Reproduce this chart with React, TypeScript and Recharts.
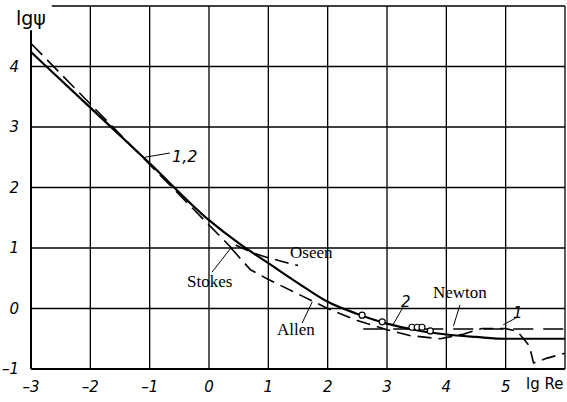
import {
  ComposedChart,
  Line,
  Scatter,
  XAxis,
  YAxis,
  CartesianGrid,
  ReferenceLine,
} from "recharts";

// lg Re positions and lg psi values
const curve12X = [-3, -2, -1, 0, 0.5, 1, 1.5, 2, 2.5, 3, 3.5, 4, 4.5, 5, 6];
const curve12Y = [4.24, 3.32, 2.4, 1.46, 1.08, 0.75, 0.42, 0.11, -0.09, -0.25, -0.36, -0.43, -0.47, -0.5, -0.5];

const stokesX = [-3, 0.4];
const stokesY = [4.38, 0.98];

const oseenX = [0.45, 0.8, 1.0, 1.5];
const oseenY = [1.05, 0.9, 0.84, 0.71];

const allenX = [0.37, 0.7, 1, 1.5, 2, 2.5, 3, 3.4, 3.9, 4.3, 4.6, 5.0, 5.2, 5.4, 5.47, 5.7, 6.0];
const allenY = [1.0, 0.64, 0.48, 0.24, 0.0, -0.2, -0.35, -0.45, -0.5, -0.42, -0.33, -0.33, -0.38, -0.62, -0.9, -0.82, -0.74];

const newtonX = [2.6, 6];
const newtonY = [-0.34, -0.34];

const expX = [2.58, 2.92, 3.42, 3.51, 3.59, 3.73];
const expY = [-0.11, -0.22, -0.31, -0.31, -0.31, -0.37];

const xTicks = [-3, -2, -1, 0, 1, 2, 3, 4, 5, 6];
const yTicks = [-1, 0, 1, 2, 3, 4, 5];

const zip = (xs: number[], ys: number[]) => xs.map((x, i) => ({ x, y: ys[i] }));

const curve12 = zip(curve12X, curve12Y);
const stokes = zip(stokesX, stokesY);
const oseen = zip(oseenX, oseenY);
const allen = zip(allenX, allenY);
const newton = zip(newtonX, newtonY);
const experiment = zip(expX, expY);

const fmt = (v: number) => (v < 0 ? `–${Math.abs(v)}` : `${v}`);
const tickStyle = { fontSize: 15, fontStyle: "italic", fill: "#000", fontFamily: "DejaVu Sans" };
const serif = { fontFamily: "Liberation Serif", fontSize: 17, fill: "#000" };

// leader lines from the text labels to the curves
const leaders: Array<[number, number, number, number]> = [
  [-1.08, 2.5, -0.66, 2.57],
  [0.05, 0.6, 0.37, 1.0],
  [1.57, -0.24, 1.74, 0.11],
  [4.12, -0.29, 4.23, 0.06],
  [3.27, 0.02, 3.1, -0.27],
  [5.2, -0.14, 4.96, -0.27],
];

export default function App() {
  return (
    <div style={{ position: "absolute", left: 0, top: 0, background: "#fff" }}>
      <ComposedChart width={567} height={402} margin={{ top: 6, right: 2, left: 0, bottom: 0 }}>
        <CartesianGrid
          stroke="#000"
          strokeWidth={1.3}
          horizontalValues={[0, 1, 2, 3, 4]}
          verticalValues={[-2, -1, 0, 1, 2, 3, 4, 5, 6]}
        />
        <XAxis
          type="number"
          dataKey="x"
          domain={[-3, 6]}
          ticks={xTicks}
          tickFormatter={(v: number) => (v === 6 ? "" : fmt(v))}
          tick={tickStyle}
          tickLine={false}
          tickMargin={6}
          height={33}
          axisLine={{ stroke: "#000", strokeWidth: 2 }}
        />
        <YAxis
          type="number"
          dataKey="y"
          domain={[-1, 5]}
          ticks={yTicks}
          tickFormatter={(v: number) => (v === 5 ? "" : fmt(v))}
          tick={tickStyle}
          tickLine={false}
          tickMargin={6}
          width={31}
          axisLine={false}
        />
        <ReferenceLine segment={[{ x: -3, y: -1 }, { x: -3, y: 4.6 }]} stroke="#000" strokeWidth={2} />
        <ReferenceLine segment={[{ x: -2.65, y: 5 }, { x: 6, y: 5 }]} stroke="#000" strokeWidth={1.3} />
        {leaders.map(([x1, y1, x2, y2], i) => (
          <ReferenceLine key={i} segment={[{ x: x1, y: y1 }, { x: x2, y: y2 }]} stroke="#000" strokeWidth={1} />
        ))}
        <Line data={stokes} dataKey="y" type="linear" stroke="#000" strokeWidth={1.6} strokeDasharray="16 7" dot={false} isAnimationActive={false} />
        <Line data={oseen} dataKey="y" type="monotone" stroke="#000" strokeWidth={1.6} strokeDasharray="14 7" dot={false} isAnimationActive={false} />
        <Line data={allen} dataKey="y" type="linear" stroke="#000" strokeWidth={1.6} strokeDasharray="14 7" dot={false} isAnimationActive={false} />
        <Line data={newton} dataKey="y" type="linear" stroke="#000" strokeWidth={1.6} strokeDasharray="20 10" dot={false} isAnimationActive={false} />
        <Line data={curve12} dataKey="y" type="monotone" stroke="#000" strokeWidth={2.2} dot={false} isAnimationActive={false} />
        <Scatter
          data={experiment}
          dataKey="y"
          isAnimationActive={false}
          shape={(p: any) => <circle cx={p.cx} cy={p.cy} r={3} fill="#fff" stroke="#000" strokeWidth={1.2} />}
        />
      </ComposedChart>
      <svg width={567} height={402} style={{ position: "absolute", left: 0, top: 0, pointerEvents: "none" }}>
        <text x={16} y={25} fontFamily="DejaVu Sans" fontSize={19} fill="#000">lgψ</text>
        <text x={526} y={389} fontFamily="DejaVu Sans" fontSize={15} fill="#000">lg Re</text>
        <text x={172} y={162} {...tickStyle} fontSize={16}>1,2</text>
        <text x={290} y={258} {...serif}>Oseen</text>
        <text x={187} y={287} {...serif}>Stokes</text>
        <text x={277} y={335} {...serif}>Allen</text>
        <text x={433} y={298} {...serif}>Newton</text>
        <text x={401} y={307} {...tickStyle}>2</text>
        <text x={513} y={318} {...tickStyle}>1</text>
      </svg>
    </div>
  );
}
